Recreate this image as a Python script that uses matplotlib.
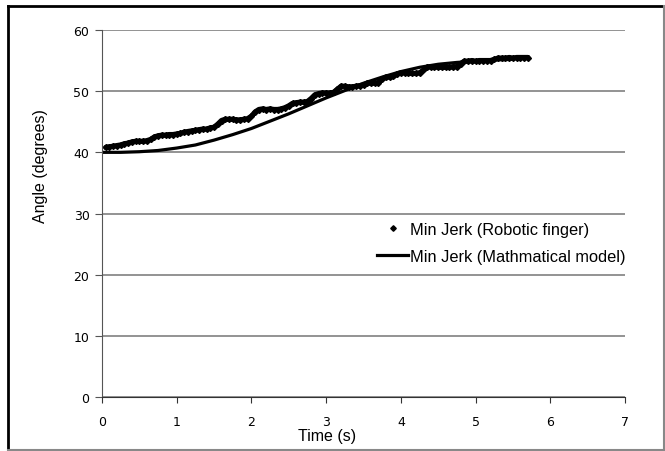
import matplotlib
matplotlib.use('Agg')
import numpy as np
import matplotlib.pyplot as plt
from matplotlib.lines import Line2D

# measured finger angle, sampled every 0.05 s starting at 0.05 s
finger_dt = 0.05
finger_angle = [
    40.8, 40.9, 41.0, 41.1, 41.2, 41.4, 41.5, 41.7, 41.8, 41.8,
    41.8, 41.9, 42.1, 42.5, 42.7, 42.8, 42.8, 42.9, 42.9, 43.0,
    43.1, 43.3, 43.4, 43.5, 43.6, 43.7, 43.8, 43.8, 44.0, 44.1,
    44.6, 45.2, 45.4, 45.4, 45.4, 45.3, 45.3, 45.4, 45.5, 45.9,
    46.6, 47.0, 47.1, 47.0, 47.1, 47.0, 47.0, 47.1, 47.3, 47.6,
    48.0, 48.1, 48.2, 48.2, 48.3, 48.8, 49.4, 49.6, 49.7, 49.7,
    49.7, 49.8, 50.3, 50.8, 50.8, 50.7, 50.7, 50.8, 50.9, 51.0,
    51.3, 51.3, 51.3, 51.4, 52.0, 52.3, 52.3, 52.4, 52.8, 53.0,
    53.0, 52.9, 52.9, 52.9, 53.0, 53.4, 53.9, 54.0, 54.0, 53.9,
    53.9, 53.9, 53.9, 54.0, 54.0, 54.5, 54.9, 54.9, 55.0, 54.9,
    55.0, 55.0, 55.0, 55.0, 55.2, 55.4, 55.4, 55.4, 55.5, 55.4,
    55.5, 55.5, 55.5, 55.5,
]
finger_t = finger_dt * np.arange(1, len(finger_angle) + 1)

# minimum jerk model curve
model_t = [0, 0.25, 0.5, 0.75, 1.0, 1.25, 1.5, 1.75, 2.0, 2.25, 2.5, 2.75,
           3.0, 3.25, 3.5, 3.75, 4.0, 4.25, 4.5, 4.75, 5.0, 5.25, 5.5]
model_angle = [40.0, 40.0, 40.1, 40.3, 40.7, 41.2, 42.0, 42.9, 43.9, 45.1, 46.3, 47.6,
               48.9, 50.1, 51.3, 52.3, 53.2, 53.9, 54.4, 54.7, 54.9, 55.1, 55.2]

xticks = [0, 1, 2, 3, 4, 5, 6, 7]
yticks = [0, 10, 20, 30, 40, 50, 60]

W, H = 665, 452
fig = plt.figure(figsize=(W/100, H/100), dpi=100)
ax = fig.add_axes([102/W, 1-398/H, 523/W, 367/H])

ax.plot(finger_t, finger_angle, '-', color='black', lw=3.8, solid_capstyle='round')
ax.plot(finger_t, finger_angle, 'D', color='black', ms=3.0, ls='none')
ax.plot(model_t, model_angle, '-', color='black', lw=2.3)

ax.set_xlim(0, 7)
ax.set_ylim(0, 60)
ax.set_xticks(xticks)
ax.set_yticks(yticks)
ax.yaxis.grid(True, color='#808080', lw=1.2)
ax.set_axisbelow(True)
for s in ['top', 'right']:
    ax.spines[s].set_visible(False)
ax.spines['left'].set_color('#555555')
ax.spines['bottom'].set_color('#333333')
ax.tick_params(axis='y', direction='out', length=5, pad=4, labelsize=9, color='#555555')
ax.tick_params(axis='x', direction='out', length=4, pad=9, labelsize=9, color='#333333')

ax.set_xlabel("Time (s)", fontfamily='Liberation Sans', fontsize=11.5)
ax.set_ylabel("Angle (degrees)", fontfamily='Liberation Sans', fontsize=11.5)
ax.xaxis.set_label_coords((327-102)/523, -(437-398)/367)
ax.yaxis.set_label_coords((40-102)/523, (398-166)/367)
ax.xaxis.label.set_va('center')
ax.yaxis.label.set_va('center')

handles = [Line2D([], [], marker='D', color='black', ms=2.8, ls='none'),
           Line2D([], [], color='black', lw=2.3)]
leg = fig.legend(handles, ["Min Jerk (Robotic finger)", "Min Jerk (Mathmatical model)"],
                 loc='upper left', bbox_to_anchor=(377/W, 1-223/H),
                 frameon=False, borderpad=0, borderaxespad=0, handlelength=1.9,
                 handletextpad=0.1, labelspacing=0.72,
                 prop={'family': 'Liberation Sans', 'size': 11.8})

# outer frame of the picture
fig.add_artist(Line2D([8/W, 8/W], [0, 1-7/H], color='black', lw=2, transform=fig.transFigure))
fig.add_artist(Line2D([8/W, 664/W], [1-7/H, 1-7/H], color='black', lw=2, transform=fig.transFigure))
fig.add_artist(Line2D([664/W, 664/W], [1-451/H, 1-7/H], color='#888888', lw=1.5, transform=fig.transFigure))
fig.add_artist(Line2D([8/W, 664/W], [1-451/H, 1-451/H], color='#888888', lw=1.5, transform=fig.transFigure))

plt.savefig("out.png", dpi=100)
